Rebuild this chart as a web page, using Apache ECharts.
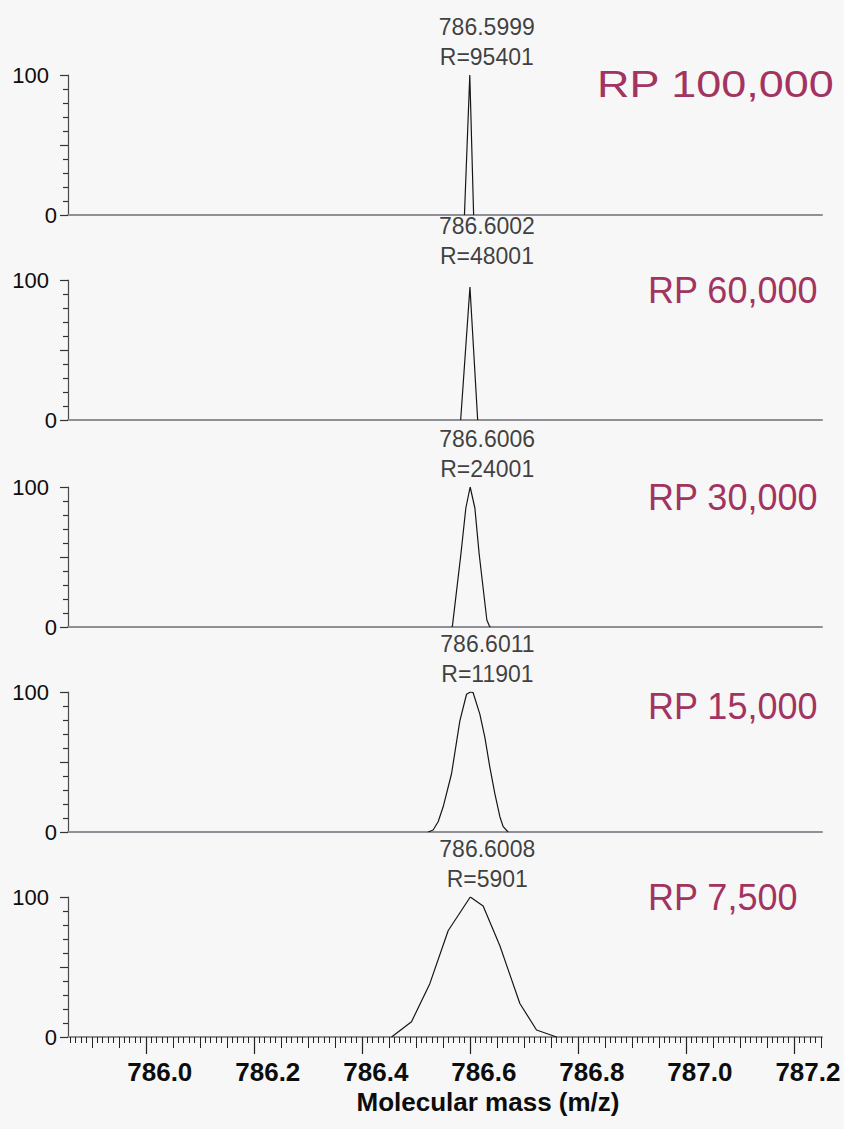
<!DOCTYPE html>
<html>
<head>
<meta charset="utf-8">
<title>Resolving power series, m/z 786.6</title>
<script src="https://cdn.jsdelivr.net/npm/echarts@6/dist/echarts.min.js"></script>
<style>
  html, body { margin: 0; padding: 0; background: #f7f7f7; }
  #chart { width: 844px; height: 1129px; }
</style>
</head>
<body>
<div id="chart"></div>
<script>
// Resolving-power settings, one panel each (top to bottom)
const panelRP = ['RP 100,000', 'RP 60,000', 'RP 30,000', 'RP 15,000', 'RP 7,500'];

// Measured resolution at the apex of each peak
const peakR = [95401, 48001, 24001, 11901, 5901];

// Profile traces [m/z, relative intensity %]
const profileRP100k = [
  [786.5900, 0], [786.5999, 100], [786.6070, 0]
];
const profileRP60k = [
  [786.5830, 0], [786.6002, 95], [786.6145, 0]
];
const profileRP30k = [
  [786.5670, 0], [786.5680, 1.5], [786.5834, 52], [786.5926, 85], [786.6006, 100],
  [786.6093, 85], [786.6173, 52], [786.6315, 5], [786.6358, 1], [786.6380, 0]
];
const profileRP15k = [
  [786.5228, 0], [786.5320, 1.4], [786.5413, 7.3], [786.5506, 18], [786.5661, 41.6],
  [786.5815, 79.4], [786.5939, 98.4], [786.6011, 100], [786.6061, 99.5], [786.6185, 84.2],
  [786.6278, 67.6], [786.6370, 46.3], [786.6463, 27.4], [786.6556, 10.9], [786.6617, 3.8],
  [786.6709, 0]
];
const profileRP7k5 = [
  [786.4550, 0], [786.4920, 10.9], [786.5259, 38.1], [786.5598, 75.9], [786.6008, 100],
  [786.6246, 93.6], [786.6556, 65.2], [786.6926, 23.9], [786.7235, 5], [786.7605, 0]
];
const profiles = [profileRP100k, profileRP60k, profileRP30k, profileRP15k, profileRP7k5];

// m/z axis: range and labelled ticks
const xMin = 785.856, xMax = 787.252;
const xTickLabels = ['786.0', '786.2', '786.4', '786.6', '786.8', '787.0', '787.2'];
const xTickValues = xTickLabels.map(Number);

// intermediate (0.05) and fine (0.01) tick marks on the m/z axis
const midTicks = [], fineTicks = [];
for (let k = Math.ceil(xMin / 0.05); k * 0.05 <= xMax; k++) midTicks.push(+(k * 0.05).toFixed(2));
for (let k = Math.ceil(xMin / 0.01); k * 0.01 <= xMax; k++) fineTicks.push(+(k * 0.01).toFixed(2));

const FONT = '"Liberation Sans", Arial, Helvetica, sans-serif';
const RP_COLOR = '#a3335f';

// panel geometry
const gridLeft = 68, gridWidth = 754, panelHeight = 140;
const panelTops = [75, 280, 487, 692, 897];
// RP caption placement: left edge, vertical centre, horizontal stretch
const rpLefts = [597, 648, 648, 648, 648];
const rpCenters = [85, 290, 497, 706, 897];
const rpStretch = [1.25, 1, 1, 1, 1];

const grids = [], xAxes = [], yAxes = [], series = [], graphics = [];

profiles.forEach((prof, i) => {
  grids.push({ left: gridLeft, top: panelTops[i], width: gridWidth, height: panelHeight });
  const isLast = i === profiles.length - 1;

  xAxes.push({
    type: 'value', gridIndex: i, min: xMin, max: xMax,
    axisLine: { show: true, onZero: false, lineStyle: { color: '#8f8f96', width: 2 } },
    axisTick: isLast
      ? { show: true, customValues: xTickValues, length: 17, lineStyle: { color: '#222', width: 1.2 } }
      : { show: false },
    axisLabel: isLast
      ? {
          show: true, customValues: xTickValues, margin: 22,
          formatter: v => xTickLabels[xTickValues.indexOf(+v.toFixed(1))] || '',
          fontFamily: FONT, fontSize: 26, fontWeight: 'bold', color: '#0d0d0d',
          lineHeight: 26, padding: [0, 0, 0, 28]
        }
      : { show: false },
    splitLine: { show: false },
    name: isLast ? 'Molecular mass (m/z)' : '',
    nameLocation: 'middle', nameGap: 52,
    nameTextStyle: {
      fontFamily: FONT, fontSize: 26, fontWeight: 'bold', color: '#0d0d0d',
      lineHeight: 26, padding: [0, 0, 0, 86]
    }
  });

  yAxes.push({
    type: 'value', gridIndex: i, min: 0, max: 100, interval: 50,
    axisLine: { show: true, lineStyle: { color: '#4a4a4a', width: 1.2 } },
    axisTick: { show: true, length: 8, lineStyle: { color: '#333', width: 1.2 } },
    minorTick: { show: true, splitNumber: 5, length: 5, lineStyle: { color: '#333', width: 1.2 } },
    splitLine: { show: false },
    axisLabel: {
      margin: 11, color: '#0d0d0d', fontFamily: FONT, fontSize: 22,
      formatter: v => (v === 100 ? '{a|100}' : v === 0 ? '{b|0}' : ''),
      rich: {
        a: { fontFamily: FONT, fontSize: 22, color: '#0d0d0d', padding: [0, 8, 0, 0] },
        b: { fontFamily: FONT, fontSize: 22, color: '#0d0d0d' }
      }
    }
  });

  series.push({
    type: 'line', xAxisIndex: i, yAxisIndex: i, data: prof,
    symbol: 'none', smooth: false, silent: true, animation: false,
    lineStyle: { color: '#161616', width: 1.2 }
  });

  // apex of the trace carries the m/z and resolution annotation
  const apex = prof.reduce((a, b) => (b[1] > a[1] ? b : a));
  const labelLift = apex[1] < 100 ? -13 : 0;
  series.push({
    type: 'scatter', xAxisIndex: i, yAxisIndex: i, data: [apex],
    symbol: 'circle', symbolSize: 0.01, silent: true, animation: false,
    itemStyle: { color: 'transparent' },
    label: {
      show: true, position: 'top', distance: 3, offset: [17, labelLift],
      formatter: p => p.value[0].toFixed(4) + '\nR=' + peakR[i],
      fontFamily: FONT, fontSize: 23, lineHeight: 30, color: '#0d0d0d', align: 'center'
    }
  });

  graphics.push({
    type: 'text', x: rpLefts[i], y: rpCenters[i], scaleX: rpStretch[i], silent: true,
    style: {
      text: panelRP[i], fill: RP_COLOR, font: '36px ' + FONT,
      textAlign: 'left', textVerticalAlign: 'middle'
    }
  });
});

// extra m/z tick layers on the bottom panel
const last = profiles.length - 1;
[[midTicks, 11], [fineTicks, 6]].forEach(([vals, len]) => {
  xAxes.push({
    type: 'value', gridIndex: last, min: xMin, max: xMax, position: 'bottom',
    axisLine: { show: false },
    axisTick: { show: true, customValues: vals, length: len, lineStyle: { color: '#222', width: 1 } },
    axisLabel: { show: false },
    splitLine: { show: false }
  });
});

const chart = echarts.init(document.getElementById('chart'), null, { renderer: 'svg' });
chart.setOption({
  backgroundColor: '#f7f7f7',
  animation: false,
  textStyle: { fontFamily: FONT },
  grid: grids,
  xAxis: xAxes,
  yAxis: yAxes,
  series: series,
  graphic: graphics
});
</script>
</body>
</html>
